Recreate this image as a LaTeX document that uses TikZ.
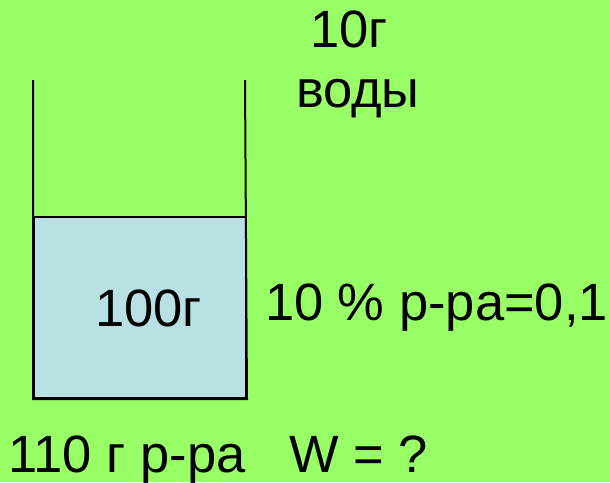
\documentclass[tikz,border=0pt]{standalone}
\usepackage{fontspec}
\setmainfont{Liberation Sans}
\definecolor{bggreen}{HTML}{99FF66}
\definecolor{liquid}{HTML}{B9E0E2}
\tikzset{
  lbl/.style={anchor=base west, inner sep=0pt, outer sep=0pt, font=\fontsize{52.5}{62}\selectfont, text=black},
  wall/.style={draw=black, line width=2pt}
}
\begin{document}
\begin{tikzpicture}[x=1pt,y=-1pt]
\fill[bggreen] (0,0) rectangle (610,482);
\useasboundingbox (0,0) rectangle (610,482);
\node[fill=liquid, draw=black, line width=2pt, minimum width=212pt, minimum height=181pt, inner sep=0pt, anchor=north west] (liq) at (33,216) {};
\coordinate (lt) at (33,80);
\coordinate (rt) at (245,80);
\draw[wall] (lt) -- (liq.south west) -- (liq.south east) -- (rt);
\node[lbl] (m1) at (310,47) {10г};
\node[lbl] (m2) at (296,107) {воды};
\node[lbl] (m3) at (95,326) {100г};
\node[lbl] (m4) at (265,320) {10 \% р-ра=0,1};
\node[lbl] (m5) at (8.5,472) {110 г р-ра};
\node[lbl] (m6) at (289,472) {W = ?};
\end{tikzpicture}
\end{document}
